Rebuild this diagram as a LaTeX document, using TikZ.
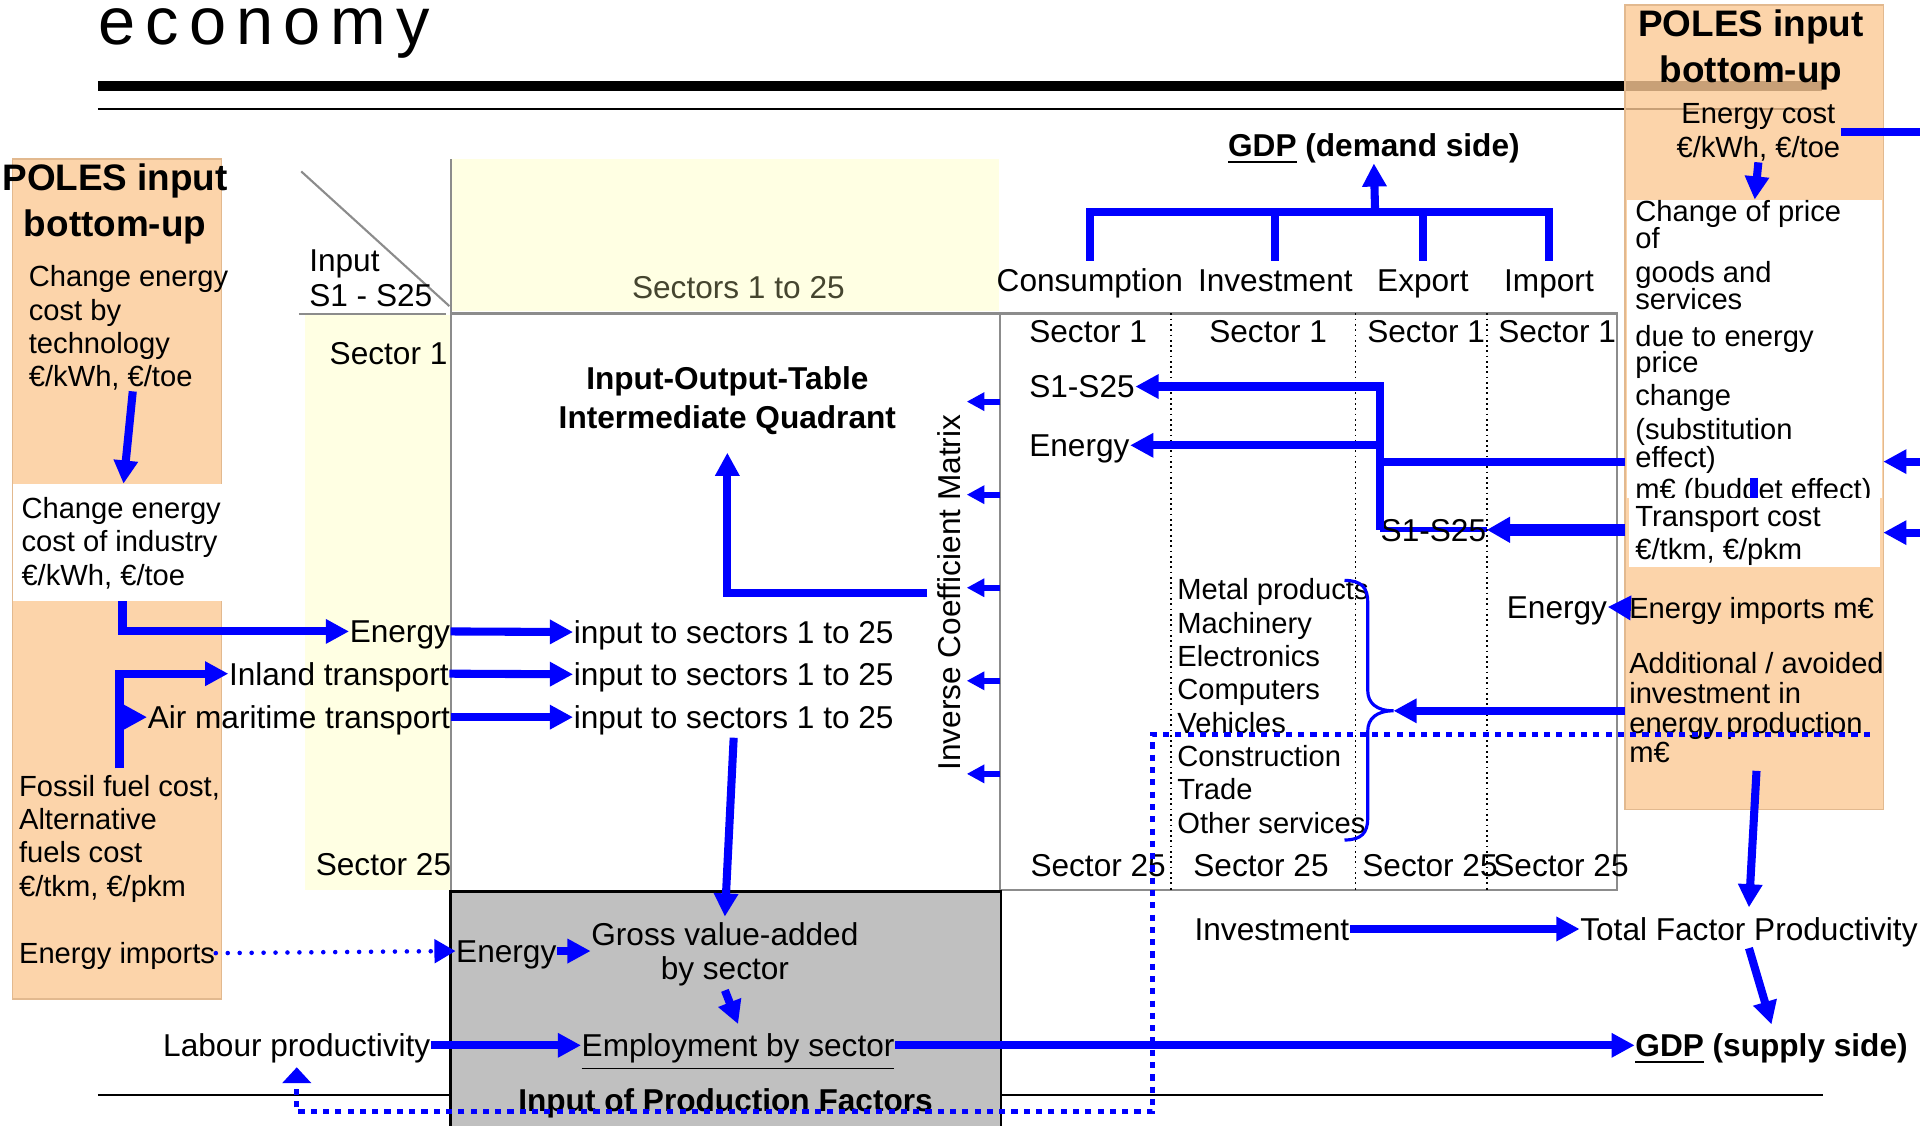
\documentclass[tikz,border=0pt]{standalone}
\usepackage{fontspec}
\setmainfont{Liberation Sans}
\usetikzlibrary{arrows.meta, backgrounds}
\definecolor{poles}{HTML}{FCD4AA}
\definecolor{polesr}{HTML}{FBC995}
\definecolor{polesedge}{HTML}{E2B98F}
\definecolor{ioyellow}{HTML}{FFFFE3}
\definecolor{boxgray}{HTML}{C0C0C0}
\definecolor{flowblue}{HTML}{0000FF}
\definecolor{gridgray}{HTML}{8C8C8C}
\definecolor{olivetext}{HTML}{45452F}
\newcommand\upx{0.01225cm}
\tikzset{
  % testi
  lbl/.style={font={\fontsize{9}{10.8}\selectfont}, inner sep=0pt, text height=6.5pt, text depth=0pt},
  slbl/.style={font={\fontsize{8.3}{10}\selectfont}, inner sep=0pt, text height=6pt, text depth=0pt},
  blbl/.style={lbl, font={\bfseries\fontsize{9}{10.8}\selectfont}},
  mlbl/.style={inner sep=0pt, align=left, font={\fontsize{8.3}{9.5}\selectfont\lineskiplimit=-5pt}},
  poleshead/.style={inner sep=0pt, align=center, font={\bfseries\fontsize{10.5}{13.1}\selectfont\lineskiplimit=-5pt}},
  % caselle
  boxarea/.style={inner sep=0pt, outer sep=0pt, anchor=north west},
  polesbox/.style={boxarea, fill=poles, draw=polesedge, line width=0.4pt},
  whitebox/.style={boxarea, fill=white},
  % frecce
  flowline/.style={draw=flowblue, line width=2.3pt},
  flow/.style={flowline, -{Triangle[length=6.6pt,width=6.6pt]}},
  smallflow/.style={draw=flowblue, line width=1.7pt, -{Triangle[length=5pt,width=5pt]}},
  dotsq/.style={draw=flowblue, line width=1.4pt, dash pattern=on 1.75pt off 1.75pt},
  dotround/.style={draw=flowblue, line width=1.3pt, line cap=round, dash pattern=on 0pt off 3.4pt},
  gridline/.style={draw=gridgray, line width=0.6pt},
  sepdot/.style={draw=black, line width=0.5pt, dash pattern=on 0.5pt off 1pt},
}
\begin{document}
\begin{tikzpicture}[x=\upx, y=-\upx]
  \useasboundingbox (0,0) rectangle (1568,919);
  % titolo e righe
  \node[anchor=base west, inner sep=0pt, font={\fontsize{19}{19}\selectfont\addfontfeature{LetterSpace=15}}] (title) at (80,36) {economy};
  \draw[line width=2.8pt] (80,70) -- (1488,70);
  \draw[line width=0.6pt] (80,89) -- (1488,89);
  \draw[line width=0.6pt] (80,894) -- (1489,894);
  % POLES a sinistra
  \node[polesbox, minimum width=171*\upx, minimum height=686*\upx] (lbox) at (10,130) {};
  \node[whitebox, minimum width=170*\upx, minimum height=96*\upx] (lindbox) at (11,395) {};
  \node[poleshead, anchor=base] (lpoles) at (94,193) {POLES input\\bottom-up};
  \node[mlbl, anchor=base west] (lchange) at (23,316) {Change energy\\cost by\\technology\\€/kWh, €/toe};
  \node[mlbl, anchor=base west] (lindus) at (17,478) {Change energy\\cost of industry\\€/kWh, €/toe};
  \node[mlbl, anchor=base west] (lfossil) at (15,732) {Fossil fuel cost,\\Alternative\\fuels cost\\€/tkm, €/pkm};
  \node[slbl, anchor=base west] (limports) at (15,787) {Energy imports};
  % tavola input-output
  \fill[ioyellow] (368,130) rectangle (816,254);
  \fill[ioyellow] (249,257) rectangle (368,727);
  \draw[gridline] (246,140) -- (367,250);
  \draw[gridline] (244,256.5) -- (364,256.5);
  \draw[gridline] (368,130) -- (368,728);
  \draw[gridline] (368,256) -- (1320.5,256) -- (1320.5,727) -- (817,727);
  \draw[gridline] (817,256) -- (817,728);
  \foreach \x in {956,1107,1214.5} \draw[sepdot] (\x,256) -- (\x,728);
  \node[boxarea, draw, fill=boxgray, line width=0.8pt, minimum width=449.5*\upx, minimum height=220*\upx] (facbox) at (368,728) {};
  % POLES a destra
  \node[polesbox, fill=polesr, fill opacity=0.8, minimum width=211*\upx, minimum height=657*\upx] (rbox) at (1327,4) {};
  \node[whitebox, minimum width=208*\upx, minimum height=244*\upx] (rchange) at (1329,163) {};
  \node[poleshead, anchor=base] (rpoles) at (1430,67) {POLES input\\bottom-up};
  \node[mlbl, align=center, anchor=base, font={\fontsize{8.3}{9.9}\selectfont}] (rcost) at (1436,129) {Energy cost\\€/kWh, €/toe};
  \foreach \t/\y [count=\i] in {{Change of price}/181, of/203, {goods and}/231, services/253, {due to energy}/283, price/304, change/331, {(substitution}/359, {effect)}/382, {m€ (budget effect)}/408}
    \node[slbl, anchor=base west] (rp\i) at (1335,\y) {\t};
  \node[whitebox, minimum width=205*\upx, minimum height=56*\upx] (rtrans) at (1330,407) {};
  \draw[flowline] (1432.5,390) -- (1432.5,407);
  \node[mlbl, anchor=base west, font={\fontsize{8.3}{9.4}\selectfont}] (rtranst) at (1335,457) {Transport cost\\€/tkm, €/pkm};
  \node[slbl, anchor=base west] (rimp) at (1330,505) {Energy imports m€};
  \node[mlbl, anchor=base west, font={\fontsize{8.3}{8.5}\selectfont\lineskiplimit=-5pt}] (radd) at (1330,623) {Additional / avoided\\investment in\\energy production\\m€};
  % testi della tavola
  \node[mlbl, anchor=base west, font={\fontsize{9}{9.8}\selectfont}] (incorner) at (252,250) {Input\\S1 - S25};
  \node[lbl, anchor=base, text=olivetext] (sectop) at (603,244) {Sectors 1 to 25};
  \node[lbl, anchor=base east] (sec1l) at (366,298) {Sector 1};
  \node[lbl, anchor=base east] (sec25l) at (369,715) {Sector 25};
  \node[inner sep=0pt, align=center, anchor=base, font={\bfseries\fontsize{9}{11.2}\selectfont\lineskiplimit=-5pt}] (ioq) at (594,350) {Input-Output-Table\\Intermediate Quadrant};
  \node[lbl, rotate=90] (icm) at (775,484) {Inverse Coefficient Matrix};
  \node[lbl, anchor=base east] (engl) at (368,525) {Energy};
  \node[lbl, anchor=base east] (inland) at (367,559.5) {Inland transport};
  \node[lbl, anchor=base east] (airmar) at (368,595) {Air maritime transport};
  \foreach \y [count=\i] in {525.5,560,595} \node[lbl, anchor=base west] (in\i) at (468,\y) {input to sectors 1 to 25};
  % domanda finale
  \node[blbl, anchor=base] (gdpd) at (1122,128) {\underline{GDP} (demand side)};
  \node[lbl, anchor=base] (cons) at (890,238) {Consumption};
  \node[lbl, anchor=base] (inv) at (1041.5,238) {Investment};
  \node[lbl, anchor=base] (exp) at (1162,238) {Export};
  \node[lbl, anchor=base] (imp) at (1265,238) {Import};
  \foreach \x/\n in {840/c, 987/i, 1116/e, 1223/m} \node[lbl, anchor=base west] (s1\n) at (\x,280) {Sector 1};
  \foreach \x/\n in {841/c, 974/i, 1112/e, 1219/m} \node[lbl, anchor=base west] (s25\n) at (\x,716) {Sector 25};
  \node[lbl, anchor=base west] (srow1) at (840,325) {S1-S25};
  \node[lbl, anchor=base west] (engr1) at (840,373) {Energy};
  \node[lbl, anchor=base west] (srow2) at (1127,442) {S1-S25};
  \node[lbl, anchor=base west] (engr2) at (1230,505) {Energy};
  \foreach \t [count=\i] in {Metal products, Machinery, Electronics, Computers, Vehicles, Construction, Trade, Other services}
    \node[slbl, anchor=base west] (ind\i) at (961,{490+27.2*(\i-1)}) {\t};
  % fattori di produzione
  \node[lbl, anchor=base west] (invb) at (975,768) {Investment};
  \node[lbl, anchor=base west] (tfp) at (1290,768) {Total Factor Productivity};
  \node[blbl, anchor=base west] (gdps) at (1335,863) {\underline{GDP} (supply side)};
  \node[lbl, anchor=base west] (engg) at (372,786) {Energy};
  \node[inner sep=0pt, align=center, anchor=base, font={\fontsize{9}{9.8}\selectfont}] (gva) at (592,800) {Gross value-added\\by sector};
  \node[lbl, anchor=base east] (labour) at (352,863) {Labour productivity};
  \node[lbl, anchor=base west] (empl) at (474.5,863) {\underline{Employment by sector}};
  \node[blbl, anchor=base] (factors) at (592.5,908) {Input of Production Factors};
  % frecce a sinistra
  \draw[flow] ([xshift=1.2pt]lchange.south) -- ([xshift=1.7pt]lindbox.north);
  \draw[flow] ([xshift=1.4pt]lindbox.south) |- (engl.west);
  \draw[flow] ([yshift=1.7pt]lfossil.north) |- (inland.west);
  \draw[flow] (lfossil.north |- airmar.west) -- (airmar.west);
  \draw[flow] (engl.east) -- (in1.west);
  \draw[flow] (inland.east) -- (in2.west);
  \draw[flow] (airmar.east) -- (in3.west);
  \draw[flow] ([xshift=-2.7pt]icm.north) -| ([yshift=-4.9pt]ioq.south);
  \coordinate (icmr) at ([xshift=1.6pt]icm.south);
  \foreach \y in {328,404,480,556,632} \draw[smallflow] (817,\y) -- (icmr |- 0,\y);
  % PIL dal lato della domanda
  \coordinate (gdpbar) at (1123,173);
  \draw[flowline] ([yshift=2pt]cons.north) |- (imp.north |- gdpbar) -- ([yshift=2pt]imp.north);
  \draw[flowline] ([yshift=2pt]inv.north) -- (inv.north |- gdpbar);
  \draw[flowline] ([yshift=2pt]exp.north) -- (exp.north |- gdpbar);
  \draw[flow] (gdpbar) -- ([yshift=-1.7pt]gdpd.south);
  % frecce dal POLES a destra
  \draw[flowline] (rcost.east) -- (rcost.east -| 1568,0);
  \draw[flow] (rcost.south) -- (rchange.north);
  \coordinate (redge2) at (1570,377);
  \coordinate (redge3) at (1570,435);
  \draw[flow] (redge2) -- (redge2 -| rbox.east);
  \draw[flow] (redge3) -- (redge3 -| rbox.east);
  \draw[flowline] (rbox.west |- 0,377) -- (srow2.west |- 0,377);
  \draw[flow] (srow2.west) -- (srow2.west |- srow1.east) -- (srow1.east);
  \draw[flow] (srow2.west |- engr1.east) -- (engr1.east);
  \begin{scope}[on background layer]
    \draw[flowline, line width=1.5pt] (srow2.west) -- (srow2.east);
  \end{scope}
  \draw[flow, line width=3.4pt, -{Triangle[length=6.6pt,width=7pt]}] (rbox.west |- srow2.east) -- (srow2.east);
  \draw[flow] (rimp.west) -- (engr2.east);
  \coordinate (bracetip) at (1138,580.5);
  \draw[flow] (rbox.west |- bracetip) -- (bracetip);
  \draw[draw=flowblue, line width=0.9pt] (1098,474) .. controls (1112,474) and (1117,480) .. (1117,492) -- (1117,564) .. controls (1117,574) and (1124,580.5) .. (bracetip) .. controls (1124,580.5) and (1117,587) .. (1117,597) -- (1117,668) .. controls (1117,680) and (1112,686) .. (1098,686);
  \draw[flow] ([yshift=-2pt]radd.south) -- ([yshift=2.7pt]tfp.north);
  \draw[flow] (invb.east) -- (tfp.west);
  \draw[flow] ([yshift=-2pt]tfp.south) -- ([yshift=2.5pt]gdps.north);
  % fattori di produzione
  \draw[flow] ([yshift=-2.4pt]in3.south) -- ([yshift=1.4pt]gva.north);
  \draw[dotround, -{Triangle[length=6pt,width=6.6pt]}] (limports.east) -- (engg.west);
  \draw[flow] (engg.east) -- (engg.east -| gva.west);
  \draw[flow] ([yshift=-1pt]gva.south) -- ([yshift=2.6pt]empl.north);
  \draw[flow] (labour.east) -- (empl.west);
  \draw[flow] (empl.east) -- (gdps.west);
  \coordinate (dotstart) at (1527,600);
  \coordinate (dotcorner) at (941,908);
  \draw[dotsq, -{Triangle[length=4.5pt,width=8pt]}] (dotstart) -| (dotcorner) -| ([yshift=-2.8pt]labour.south);
\end{tikzpicture}
\end{document}
